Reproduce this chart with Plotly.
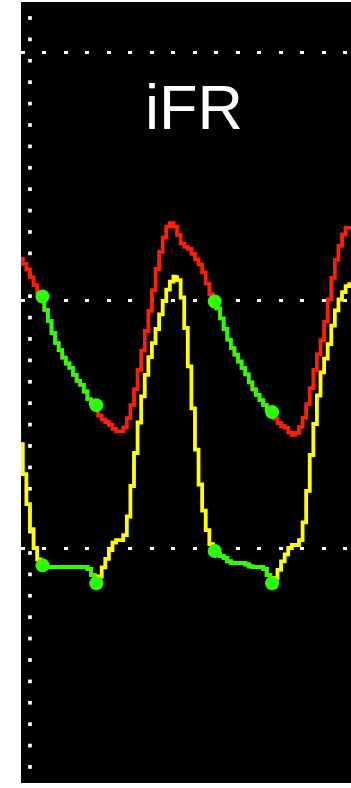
import numpy as np
import plotly.graph_objects as go

# sample index (one sample per screen column of the monitor trace)
samples = list(range(-1, 92))

# aortic pressure Pa (red), mmHg
pa = [109.0, 107.8, 107.0, 105.5, 103.9, 102.3, 100.9, 99.1, 97.1, 94.7,
      92.2, 90.6, 89.4, 87.6, 87.0, 85.8, 84.2, 83.4, 82.6, 80.7,
      79.5, 78.7, 77.3, 76.3, 75.7, 75.3, 74.5, 73.7, 73.5, 73.7,
      75.1, 77.5, 80.3, 84.0, 88.0, 91.8, 95.9, 99.9, 104.3, 108.4,
      111.2, 114.2, 115.6, 115.6, 114.2, 112.2, 110.8, 110.8, 110.0, 108.8,
      107.8, 106.8, 104.5, 102.3, 100.3, 99.3, 97.5, 95.3, 93.2, 91.0,
      89.8, 88.4, 87.0, 85.8, 84.4, 82.6, 81.6, 80.3, 79.5, 78.3,
      77.3, 76.5, 75.9, 74.7, 74.7, 73.9, 72.9, 72.9, 73.7, 75.3,
      77.5, 80.7, 84.0, 88.0, 90.4, 93.6, 97.9, 102.5, 106.6, 109.8,
      112.2, 114.4, 115.0]

# distal pressure Pd (yellow), mmHg
pd_ = [73.9, 68.2, 61.8, 56.1, 51.7, 48.5, 47.1, 46.5,
       46.3, 46.3, 46.3, 46.3, 46.3, 46.3, 46.3, 46.3, 46.3, 46.3, 46.3, 46.3,
       45.5, 43.9, 43.4, 45.3, 47.1, 48.7, 50.7, 51.7, 51.7, 51.7,
       53.7, 59.2, 66.0, 72.5, 78.3, 83.0, 87.0, 90.2, 92.6, 95.9,
       98.5, 101.3, 103.1, 104.5, 105.1, 103.1, 98.1, 90.8, 82.6, 73.9,
       66.0, 59.8, 55.5, 51.9, 49.9, 49.1, 48.5, 48.5, 47.7,
       47.1, 47.1, 47.1, 47.1, 47.1, 46.5, 46.3, 46.3, 46.3, 46.3,
       45.5, 43.9, 43.4, 44.7, 46.7, 48.1, 49.5, 50.7, 50.7, 50.7,
       52.7, 57.8, 65.4, 72.3, 77.9, 83.8, 87.2, 89.4, 93.0, 96.9,
       99.1, 101.3, 102.1, 103.7]

# wave-free period (iFR window) boundaries, in samples
ifr_start = [5.5, 53.5]
ifr_end = [20.5, 69.5]
pa_mark_start = [100.8, 99.8]
pa_mark_end = [78.9, 77.5]
pd_mark_start = [46.6, 49.5]
pd_mark_end = [43.0, 43.0]

grid_vals = [50, 100, 150]
title_text = "iFR"

RED = "#ff1e00"
YEL = "#ffff00"
GRN = "#2bff00"
LW = 3.8
SHAPE = "vhv"

x_arr = np.array(samples)
pa_arr = np.array(pa)
pd_arr = np.array(pd_)

fig = go.Figure()

# scale ticks (dotted vertical marks near left edge)
tick_top, tick_step, n_ticks = 156.96, 4.3145, 36
tick_y = tick_top - tick_step * np.arange(n_ticks)
fig.add_trace(go.Scatter(x=np.full(n_ticks, 2), y=tick_y, mode="markers",
                         marker=dict(symbol="square", size=3.7, color="white",
                                     line=dict(width=0)),
                         hoverinfo="skip", showlegend=False))

fig.add_trace(go.Scatter(x=x_arr, y=pd_arr, mode="lines",
                         line=dict(color=YEL, width=LW, shape=SHAPE), showlegend=False))
fig.add_trace(go.Scatter(x=x_arr, y=pa_arr, mode="lines",
                         line=dict(color=RED, width=LW, shape=SHAPE), showlegend=False))

for s, e, ps, pe, ds, de in zip(ifr_start, ifr_end, pa_mark_start, pa_mark_end,
                                pd_mark_start, pd_mark_end):
    inside = (x_arr > s) & (x_arr < e)
    gx = np.concatenate([[s], x_arr[inside], [e]])
    for series, ys, ye in ((pa_arr, ps, pe), (pd_arr, ds, de)):
        gy = np.concatenate([[ys], series[inside], [ye]])
        fig.add_trace(go.Scatter(x=gx, y=gy, mode="lines",
                                 line=dict(color=GRN, width=LW, shape=SHAPE),
                                 showlegend=False))
        fig.add_trace(go.Scatter(x=[s, e], y=[ys, ye], mode="markers",
                                 marker=dict(color=GRN, size=14, line=dict(width=0)),
                                 showlegend=False))

fig.add_annotation(text=title_text, x=0.524, y=139.1, xref="paper", yref="y",
                   showarrow=False, font=dict(family="Liberation Sans, Arial", size=63,
                                                color="white"),
                   xanchor="center", yanchor="middle")

fig.update_layout(
    width=351, height=788,
    margin=dict(l=21, r=0, t=2, b=5),
    paper_bgcolor="white", plot_bgcolor="black",
    showlegend=False,
    xaxis=dict(range=[-0.5, 91.5], showgrid=False, zeroline=False,
               showticklabels=False, ticks="", showline=False, fixedrange=True),
    yaxis=dict(range=[2.72, 160.18], tickvals=grid_vals, showgrid=True,
               gridcolor="white", gridwidth=3, griddash="4px,17.47px",
               zeroline=False, showticklabels=False, ticks="", showline=False,
               fixedrange=True),
)

fig.write_html("out.html")
